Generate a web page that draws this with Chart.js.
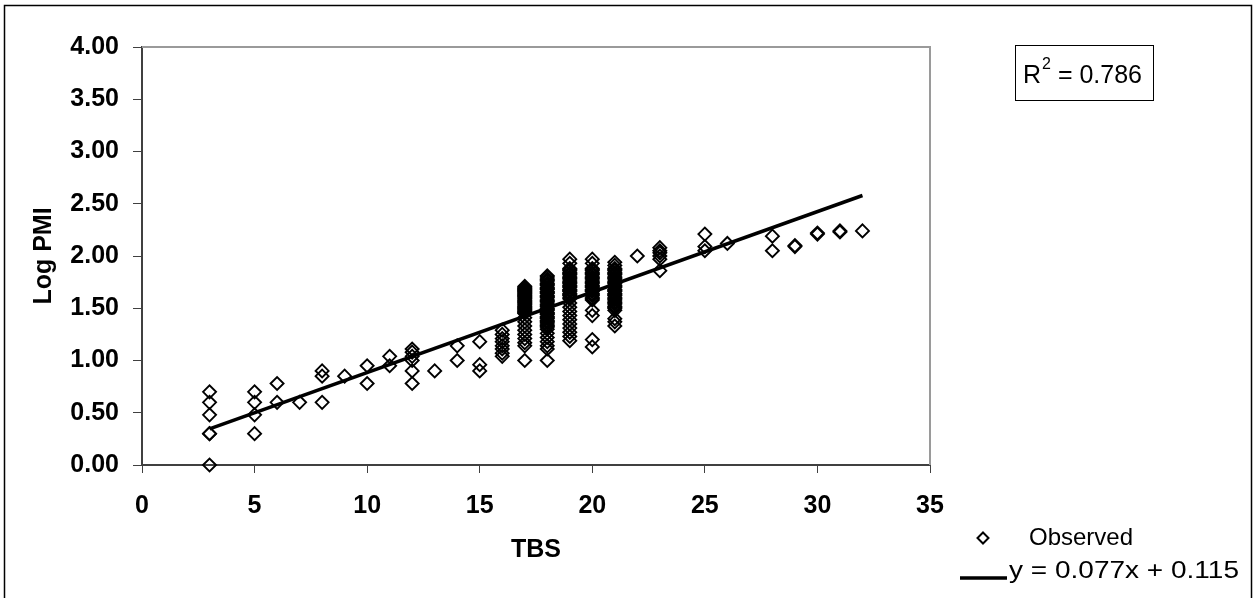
<!DOCTYPE html>
<html>
<head>
<meta charset="utf-8">
<title>Log PMI vs TBS</title>
<script src="https://cdn.jsdelivr.net/npm/chart.js@4.4.1/dist/chart.umd.min.js"></script>
<style>
    body { margin: 0; background: #fff; }
    #wrap { width: 1254px; height: 598px; }
</style>
</head>
<body>
<div id="wrap"><canvas id="my-chart" width="1254" height="598"></canvas></div>
<script>
// observed points, one list of Log PMI values per TBS score
const tbsValues = [3, 5, 6, 7, 8, 9, 10, 11, 12, 13, 14, 15, 16, 17, 18, 19, 20, 21, 22, 23, 25, 26, 28, 29, 30, 31, 32];
const logPmiByTbs = [
    [0.70, 0.60, 0.48, 0.30, 0.30, 0.00],
    [0.70, 0.60, 0.48, 0.30],
    [0.78, 0.60],
    [0.60],
    [0.90, 0.85, 0.60],
    [0.85],
    [0.95, 0.78],
    [1.04, 0.95],
    [1.11, 1.08, 1.04, 1.00, 0.90, 0.78],
    [0.90],
    [1.14, 1.00],
    [1.18, 0.96, 0.90],
    [1.29, 1.25, 1.21, 1.18, 1.14, 1.11, 1.07, 1.04],
    [1.71, 1.70, 1.69, 1.68, 1.67, 1.66, 1.65, 1.64, 1.63, 1.62, 1.61, 1.60, 1.59, 1.58, 1.57, 1.56,
     1.55, 1.54, 1.53, 1.52, 1.51, 1.50, 1.49, 1.48, 1.47, 1.46, 1.45,
     1.41, 1.37, 1.33, 1.29, 1.25, 1.21, 1.17, 1.14, 1.00],
    [1.81, 1.80, 1.78, 1.77, 1.76, 1.74, 1.73, 1.72, 1.70, 1.69, 1.68, 1.66, 1.65, 1.64, 1.62, 1.61,
     1.60, 1.58, 1.57, 1.56, 1.54, 1.53, 1.52, 1.50, 1.49, 1.48, 1.46, 1.45, 1.44, 1.42, 1.41, 1.40,
     1.38, 1.37, 1.36, 1.34, 1.33, 1.32, 1.30,
     1.26, 1.22, 1.18, 1.14, 1.11, 1.00],
    [1.97, 1.93, 1.88, 1.87, 1.86, 1.84, 1.83, 1.82, 1.80, 1.79, 1.78, 1.76, 1.75, 1.74, 1.72, 1.71,
     1.70, 1.68, 1.67, 1.66, 1.64, 1.63, 1.62, 1.60, 1.59,
     1.55, 1.51, 1.47, 1.43, 1.39, 1.35, 1.31, 1.27, 1.23, 1.19],
    [1.97, 1.93, 1.88, 1.87, 1.86, 1.84, 1.83, 1.82, 1.80, 1.79, 1.78, 1.76, 1.75, 1.74, 1.72, 1.71,
     1.70, 1.68, 1.67, 1.66, 1.64, 1.63, 1.62, 1.60, 1.59, 1.58,
     1.48, 1.43, 1.20, 1.13],
    [1.94, 1.91, 1.88, 1.87, 1.86, 1.84, 1.83, 1.82, 1.80, 1.79, 1.78, 1.76, 1.75, 1.74, 1.72, 1.71,
     1.70, 1.68, 1.67, 1.66, 1.64, 1.63, 1.62, 1.60, 1.59, 1.58, 1.56, 1.55, 1.54, 1.52, 1.51, 1.50, 1.48,
     1.40, 1.37, 1.33],
    [2.00],
    [2.08, 2.05, 2.03, 2.00, 1.97, 1.86],
    [2.21, 2.09, 2.05],
    [2.12],
    [2.19, 2.05],
    [2.09, 2.10],
    [2.21, 2.22],
    [2.23, 2.24],
    [2.24]
];

// fitted trend line y = 0.077x + 0.115, end points
const trendX = [3, 32];
const trendY = [0.346, 2.579];

const xTickValues = [0, 5, 10, 15, 20, 25, 30, 35];
const xTickLabels = ["0", "5", "10", "15", "20", "25", "30", "35"];
const yTickValues = [0, 0.5, 1, 1.5, 2, 2.5, 3, 3.5, 4];
const yTickLabels = ["0.00", "0.50", "1.00", "1.50", "2.00", "2.50", "3.00", "3.50", "4.00"];

const seriesName = "Observed";
const trendName = "y = 0.077x + 0.115";
const rSquared = "0.786";

const FONT = '"Liberation Sans", Arial, sans-serif';
Chart.defaults.font.family = FONT;
Chart.defaults.color = "#000";

const observed = [];
tbsValues.forEach((tbs, i) => {
    logPmiByTbs[i].forEach((v) => observed.push({ x: tbs, y: v }));
});
const trend = trendX.map((x, i) => ({ x: x, y: trendY[i] }));

// frame, plot border, R2 box and legend (drawn like the excel sheet)
const decorations = {
    id: "decorations",
    beforeDatasetsDraw(chart) {
        const { ctx, chartArea: a } = chart;
        ctx.save();
        ctx.strokeStyle = "#9a9a9a";
        ctx.lineWidth = 2;
        ctx.beginPath();
        ctx.moveTo(a.left, a.top);
        ctx.lineTo(a.right, a.top);
        ctx.lineTo(a.right, a.bottom);
        ctx.stroke();
        ctx.restore();
    },
    afterDraw(chart) {
        const ctx = chart.ctx;
        ctx.save();
        ctx.strokeStyle = "#000";
        ctx.fillStyle = "#000";

        // outer frame
        ctx.lineWidth = 1.5;
        ctx.strokeRect(4.5, 5.5, 1247, 620);

        // R squared box
        ctx.lineWidth = 1;
        ctx.strokeRect(1015.5, 45.5, 138, 55);
        ctx.textBaseline = "middle";
        ctx.font = "25px " + FONT;
        ctx.fillText("R", 1023, 76);
        let x = 1023 + ctx.measureText("R").width;
        ctx.font = "16px " + FONT;
        ctx.fillText("2", x + 1, 65);
        x += ctx.measureText("2").width + 1;
        ctx.font = "25px " + FONT;
        ctx.fillText(" = " + rSquared, x, 76);

        // legend
        ctx.lineWidth = 2;
        ctx.beginPath();
        ctx.moveTo(983, 532.5);
        ctx.lineTo(988.5, 538);
        ctx.lineTo(983, 543.5);
        ctx.lineTo(977.5, 538);
        ctx.closePath();
        ctx.stroke();
        ctx.font = "24px " + FONT;
        ctx.fillText(seriesName, 1029, 538);

        ctx.lineWidth = 3.5;
        ctx.beginPath();
        ctx.moveTo(960, 578);
        ctx.lineTo(1007, 578);
        ctx.stroke();
        // excel label comes out wider than the font metrics, stretch it a bit
        const w = ctx.measureText(trendName).width;
        ctx.translate(1009, 571);
        ctx.scale(230 / w, 1);
        ctx.fillText(trendName, 0, 0);
        ctx.restore();
    }
};

const ctx = document.getElementById("my-chart").getContext("2d");
const chart = new Chart(ctx, {
    type: "scatter",
    data: {
        datasets: [
            {
                label: trendName,
                data: trend,
                showLine: true,
                borderColor: "#000",
                borderWidth: 3.5,
                pointRadius: 0,
                clip: false
            },
            {
                label: seriesName,
                data: observed,
                pointStyle: "rectRot",
                pointRadius: 6.5,
                borderColor: "#000",
                borderWidth: 1.9,
                backgroundColor: "rgba(0,0,0,0)",
                clip: false
            }
        ]
    },
    options: {
        responsive: false,
        animation: false,
        layout: { padding: { left: 0, top: 47, right: 324, bottom: 0 } },
        plugins: {
            legend: { display: false },
            tooltip: { enabled: false }
        },
        scales: {
            x: {
                type: "linear",
                min: 0,
                max: 35,
                afterFit: (s) => { s.height = 133; },
                afterBuildTicks: (s) => { s.ticks = xTickValues.map((v) => ({ value: v })); },
                ticks: {
                    padding: 18,
                    font: { size: 25, weight: "bold" },
                    color: "#000",
                    callback: (v, i) => xTickLabels[i]
                },
                grid: { drawOnChartArea: false, tickLength: 8, tickColor: "#404040", tickWidth: 1 },
                border: { color: "#404040", width: 2 },
                title: {
                    display: true,
                    text: "TBS",
                    font: { size: 25, weight: "bold" },
                    color: "#000",
                    padding: { top: 0, bottom: 33 }
                }
            },
            y: {
                min: 0,
                max: 4,
                afterFit: (s) => { s.width = 142; },
                afterBuildTicks: (s) => { s.ticks = yTickValues.map((v) => ({ value: v })); },
                ticks: {
                    padding: 14,
                    font: { size: 25, weight: "bold" },
                    color: "#000",
                    callback: (v, i) => yTickLabels[i]
                },
                grid: { drawOnChartArea: false, tickLength: 9, tickColor: "#404040", tickWidth: 1 },
                border: { color: "#404040", width: 2 },
                title: {
                    display: true,
                    text: "Log PMI",
                    font: { size: 25, weight: "bold" },
                    color: "#000",
                    padding: { top: 29, bottom: 0 }
                }
            }
        }
    },
    plugins: [decorations]
});
</script>
</body>
</html>
